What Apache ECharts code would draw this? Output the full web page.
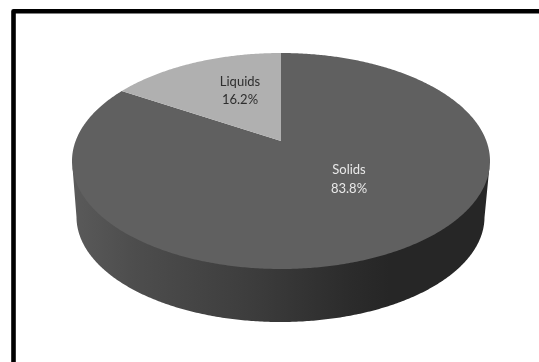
<!DOCTYPE html>
<html>
<head>
<meta charset="utf-8">
<style>
  html, body { margin: 0; padding: 0; background: #fff; }
  #chart { width: 539px; height: 362px; }
</style>
<script src="https://cdn.jsdelivr.net/npm/echarts@6/dist/echarts.min.js"></script>
</head>
<body>
<div id="chart"></div>
<script>
// Phase shares of the sample, in percent, clockwise from twelve o'clock.
const categories = ['Solids', 'Liquids'];
const shares = [83.8, 16.2];
const topColors = ['#606060', '#b0b0b0'];
const labelColors = ['#e8e8e8', '#2e2e2e'];

// Projected disc: lid and base ellipses, plus the forward shift of the hub.
const lid = { cx: 281, cy: 161, rx: 209, ry: 108 };
const base = { cx: 280.5, cy: 217, rx: 204, ry: 105 };
const tilt = -0.185;
const labelCentres = [[349, 179.5], [240, 91]];

// Maps a pie angle and radius onto a ring through a perspective transform.
function project(ring, angle, r) {
  const u = r * Math.sin(angle);
  const v = -r * Math.cos(angle);
  const d = 1 + tilt * v;
  return [
    ring.cx + ring.rx * u * Math.sqrt(1 - tilt * tilt) / d,
    ring.cy + ring.ry * (v + tilt) / d
  ];
}

function sliceAngles(index) {
  const total = shares.reduce((a, b) => a + b, 0);
  const before = shares.slice(0, index).reduce((a, b) => a + b, 0);
  return [before / total * Math.PI * 2, (before + shares[index]) / total * Math.PI * 2];
}

function sampleArc(ring, from, to) {
  const steps = Math.max(2, Math.ceil((to - from) / (Math.PI / 360)));
  const out = [];
  for (let i = 0; i <= steps; i++) {
    out.push(project(ring, from + (to - from) * i / steps, 1));
  }
  return out;
}

const wallFill = new echarts.graphic.LinearGradient(72, 0, 490, 0, [
  { offset: 0, color: '#5a5a5a' },
  { offset: 0.15, color: '#4d4d4d' },
  { offset: 0.41, color: '#3e3e3e' },
  { offset: 0.48, color: '#393939' },
  { offset: 0.67, color: '#2b2b2b' },
  { offset: 0.76, color: '#262626' },
  { offset: 1, color: '#262626' }
], true);

function renderSlice(params, api) {
  const index = api.value(1);
  const [from, to] = sliceAngles(index);
  const children = [];

  // Side wall: only the part of the slice on the front half of the disc.
  // Its upper edge tucks under the lid so no background shows along the seam.
  const frontLid = [];
  const frontBase = [];
  const steps = Math.ceil((to - from) / (Math.PI / 360));
  for (let i = 0; i <= steps; i++) {
    const a = from + (to - from) * i / steps;
    const p = project(lid, a, 1);
    if (p[1] >= lid.cy) {
      frontLid.push([p[0], p[1] - Math.min(3, p[1] - lid.cy)]);
      frontBase.push(project(base, a, 1));
    }
  }
  if (frontLid.length > 1) {
    children.push({
      type: 'polygon',
      shape: { points: frontLid.concat(frontBase.reverse()) },
      style: { fill: wallFill }
    });
  }

  // Top face of the slice.
  children.push({
    type: 'polygon',
    shape: { points: [project(lid, 0, 0)].concat(sampleArc(lid, from, to)) },
    style: { fill: topColors[index] }
  });

  // Name and percentage.
  children.push({
    type: 'text',
    z2: 10,
    style: {
      x: labelCentres[index][0],
      y: labelCentres[index][1],
      text: categories[index] + '\n' + api.value(0).toFixed(1) + '%',
      fill: labelColors[index],
      font: '13px Lato, "Open Sans", sans-serif',
      lineHeight: 18.5,
      align: 'center',
      verticalAlign: 'middle'
    }
  });

  return { type: 'group', children: children };
}

const chart = echarts.init(document.getElementById('chart'), null, { renderer: 'canvas' });
chart.setOption({
  animation: false,
  backgroundColor: '#ffffff',
  // Heavy frame along the top and left edges only.
  graphic: [{
    type: 'polyline',
    shape: { points: [[539, 11.3], [13.5, 11.3], [13.5, 362]] },
    style: { stroke: '#000000', lineWidth: 4.6, fill: 'none', lineJoin: 'round' }
  }],
  series: [{
    type: 'custom',
    coordinateSystem: 'none',
    renderItem: renderSlice,
    data: shares.map((v, i) => [v, i])
  }]
});
</script>
</body>
</html>
